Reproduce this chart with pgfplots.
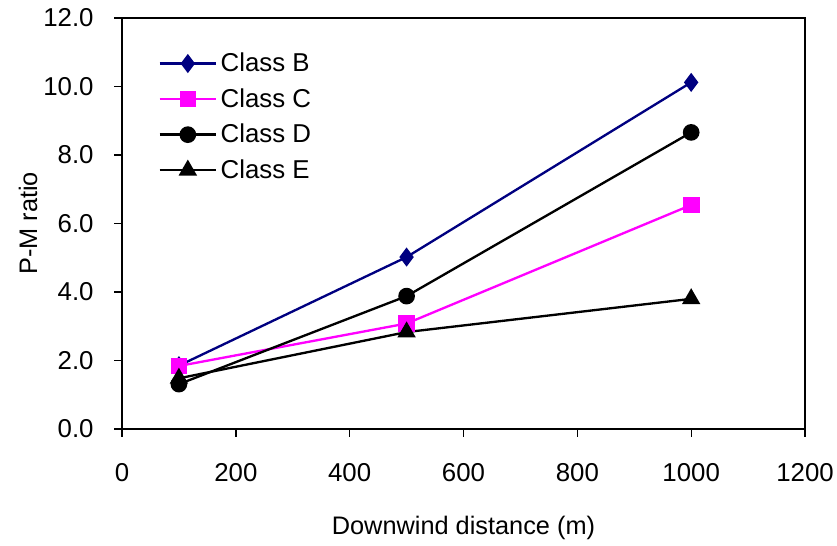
\documentclass[border=0pt]{standalone}
\usepackage{pgfplots}
\pgfplotsset{compat=1.18}
\usepackage{fontspec}
\setmainfont{Liberation Sans}
\definecolor{navyb}{RGB}{0,0,128}
\definecolor{magc}{RGB}{255,0,255}
\begin{document}
\begin{tikzpicture}
\begin{axis}[
  scale only axis,
  width=409.8pt, height=246.6pt,
  xmin=0, xmax=1200, ymin=0, ymax=12,
  xtick={0,200,...,1200},
  ytick={0,2,...,12},
  yticklabel style={/pgf/number format/.cd,fixed,fixed zerofill,precision=1,/tikz/.cd,xshift=-9pt},
  xticklabel style={/pgf/number format/.cd,fixed,1000 sep={},/tikz/.cd,yshift=-12.6pt},
  /pgf/number format/assume math mode=true,
  scaled x ticks=false,
  tick align=outside,
  tick pos=left,
  major tick length=4.5pt,
  axis line style={black, line width=1.1pt},
  tick style={black, line width=0.8pt},
  ticklabel style={font=\fontsize{15.5}{18}\selectfont},
  xlabel={Downwind distance (m)},
  ylabel={P-M ratio},
  label style={font=\fontsize{15.2}{18}\selectfont},
  xlabel style={at={(axis description cs:0.5,-0.2409)}, anchor=center},
  ylabel style={at={(axis description cs:-0.1376,0.5)}, anchor=center},
  legend style={draw=none, fill=none, at={(0.0454,0.932)}, anchor=north west,
    font=\fontsize{15.5}{18}\selectfont, row sep=4.6pt},
  legend cell align=left,
  legend image code/.code={
    \draw[#1] (0pt,0pt) -- (34pt,0pt);
    \draw[#1,only marks] plot coordinates {(17pt,0pt)};
  },
]
\addplot[navyb, line width=1.4pt, mark=diamond*, mark size=4.6pt, mark options={fill=navyb}]
  coordinates {(100,1.85) (500,5.02) (1000,10.12)};
\addlegendentry{Class B}
\addplot[magc, line width=1.4pt, mark=square*, mark size=4.3pt, mark options={fill=magc}]
  coordinates {(100,1.84) (500,3.08) (1000,6.54)};
\addlegendentry{Class C}
\addplot[black, line width=1.4pt, mark=*, mark size=4.3pt]
  coordinates {(100,1.31) (500,3.88) (1000,8.66)};
\addlegendentry{Class D}
\addplot[black, line width=1.4pt, mark=triangle*, mark size=5pt]
  coordinates {(100,1.48) (500,2.83) (1000,3.80)};
\addlegendentry{Class E}
\end{axis}
\pgfresetboundingbox
\path ([xshift=-73.2pt,yshift=-69.6pt]current axis.south west) rectangle ([xshift=19.2pt,yshift=10.8pt]current axis.north east);
\end{tikzpicture}
\end{document}
